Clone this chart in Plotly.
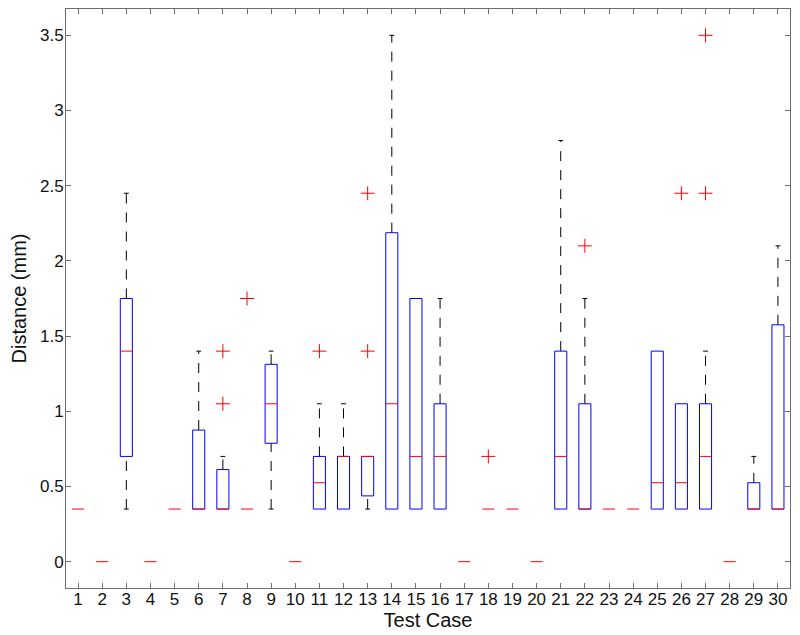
import plotly.graph_objects as go

cases = list(range(1, 31))
q1 = [0.35, 0, 0.7, 0, 0.35, 0.35, 0.35, 0.35, 0.7875, 0,
      0.35, 0.35, 0.4375, 0.35, 0.35, 0.35, 0, 0.35, 0.35, 0,
      0.35, 0.35, 0.35, 0.35, 0.35, 0.35, 0.35, 0, 0.35, 0.35]
median = [0.35, 0, 1.4, 0, 0.35, 0.35, 0.35, 0.35, 1.05, 0,
          0.525, 0.7, 0.7, 1.05, 0.7, 0.7, 0, 0.35, 0.35, 0,
          0.7, 0.35, 0.35, 0.35, 0.525, 0.525, 0.7, 0, 0.35, 0.35]
q3 = [0.35, 0, 1.75, 0, 0.35, 0.875, 0.6125, 0.35, 1.3125, 0,
      0.7, 0.7, 0.7, 2.1875, 1.75, 1.05, 0, 0.35, 0.35, 0,
      1.4, 1.05, 0.35, 0.35, 1.4, 1.05, 1.05, 0, 0.525, 1.575]
whisker_lo = [0.35, 0, 0.35, 0, 0.35, 0.35, 0.35, 0.35, 0.35, 0,
              0.35, 0.35, 0.35, 0.35, 0.35, 0.35, 0, 0.35, 0.35, 0,
              0.35, 0.35, 0.35, 0.35, 0.35, 0.35, 0.35, 0, 0.35, 0.35]
whisker_hi = [0.35, 0, 2.45, 0, 0.35, 1.4, 0.7, 0.35, 1.4, 0,
              1.05, 1.05, 0.7, 3.5, 1.75, 1.75, 0, 0.35, 0.35, 0,
              2.8, 1.75, 0.35, 0.35, 1.4, 1.05, 1.4, 0, 0.7, 2.1]
outlier_case = [7, 7, 8, 11, 13, 13, 18, 22, 26, 27, 27]
outlier_val = [1.05, 1.4, 1.75, 1.4, 1.4, 2.45, 0.7, 2.1, 2.45, 2.45, 3.5]

x_ticks = cases
y_ticks = [0, 0.5, 1, 1.5, 2, 2.5, 3, 3.5]
y_tick_labels = ["0", "0.5", "1", "1.5", "2", "2.5", "3", "3.5"]

HW = 0.25   # half box width
CW = 0.1    # half cap width

bx, by = [], []
wx, wy = [], []
cx, cy = [], []
mx, my = [], []
for c, a, m, b, lo, hi in zip(cases, q1, median, q3, whisker_lo, whisker_hi):
    if b > a:
        bx += [c - HW, c + HW, c + HW, c - HW, c - HW, None]
        by += [a, a, b, b, a, None]
    if hi > b:
        wx += [c, c, None]
        wy += [b, hi, None]
        cx += [c - CW, c + CW, None]
        cy += [hi, hi, None]
    if lo < a:
        wx += [c, c, None]
        wy += [lo, a, None]
        cx += [c - CW, c + CW, None]
        cy += [lo, lo, None]
    mx += [c - HW, c + HW, None]
    my += [m, m, None]

fig = go.Figure()
fig.add_trace(go.Scatter(x=wx, y=wy, mode="lines",
                         line=dict(color="black", width=1, dash="10px,9px"),
                         hoverinfo="skip"))
fig.add_trace(go.Scatter(x=cx, y=cy, mode="lines",
                         line=dict(color="black", width=1), hoverinfo="skip"))
fig.add_trace(go.Scatter(x=bx, y=by, mode="lines",
                         line=dict(color="#0000ff", width=1), hoverinfo="skip"))
fig.add_trace(go.Scatter(x=mx, y=my, mode="lines",
                         line=dict(color="#ff0000", width=1), hoverinfo="skip"))
fig.add_trace(go.Scatter(x=outlier_case, y=outlier_val, mode="markers",
                         marker=dict(symbol="cross-thin", size=10,
                                     line=dict(color="#ff0000", width=1)),
                         hoverinfo="skip"))

axis_color = "#6e6e6e"
fig.update_layout(
    width=792, height=627,
    margin=dict(l=58, r=10, t=1, b=47),
    paper_bgcolor="white", plot_bgcolor="white",
    showlegend=False,
    font=dict(family="Liberation Sans, Arial, sans-serif", size=17, color="#111111"),
)
fig.update_xaxes(
    range=[0.5, 30.5], tickmode="array", tickvals=x_ticks,
    ticktext=[str(v) for v in x_ticks], ticklabelstandoff=-4,
    ticks="inside", ticklen=5, tickcolor=axis_color,
    showline=True, linecolor=axis_color, linewidth=1, mirror="ticks",
    showgrid=False, zeroline=False, automargin=False,
    title=dict(text="Test Case", font=dict(size=20), standoff=4),
)
fig.update_yaxes(
    range=[-0.175, 3.675], tickmode="array", tickvals=y_ticks,
    ticktext=y_tick_labels, ticklabelstandoff=-2,
    ticks="inside", ticklen=5, tickcolor=axis_color,
    showline=True, linecolor=axis_color, linewidth=1, mirror="ticks",
    showgrid=False, zeroline=False, automargin=False,
    title=dict(text="Distance (mm)", font=dict(size=20), standoff=9),
)
fig.write_html("out.html")
